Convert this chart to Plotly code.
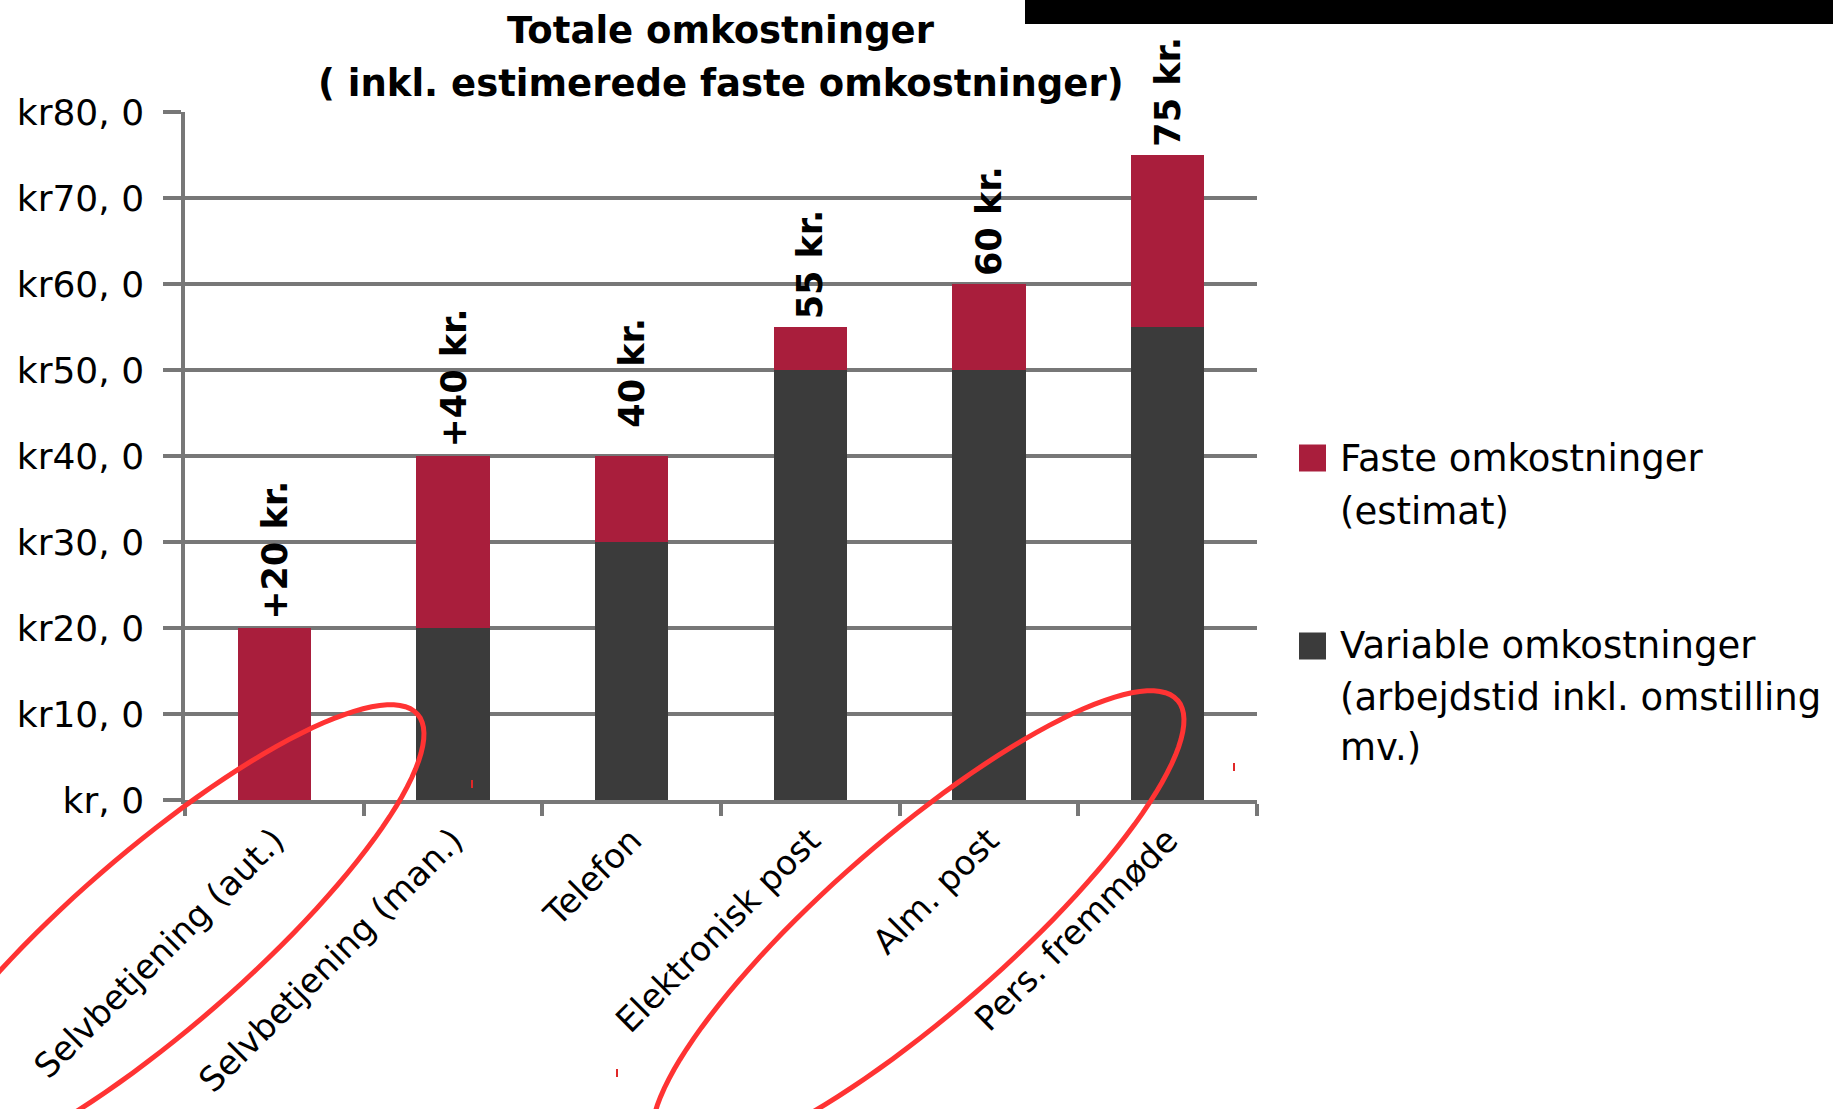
import math
import plotly.graph_objects as go

# ---------------- data ----------------
categories = ["Selvbetjening (aut.)", "Selvbetjening (man.)", "Telefon",
              "Elektronisk post", "Alm. post", "Pers. fremmøde"]
variable_values = [0, 20, 30, 50, 50, 55]
faste_values = [20, 20, 10, 5, 10, 20]
bar_labels = ["+20 kr.", "+40 kr.", "40 kr.", "55 kr.", "60 kr.", "75 kr."]
y_tickvals = [0, 10, 20, 30, 40, 50, 60, 70, 80]
y_ticktext = ["kr, 0", "kr10, 0", "kr20, 0", "kr30, 0", "kr40, 0",
              "kr50, 0", "kr60, 0", "kr70, 0", "kr80, 0"]
faste_name = ["Faste omkostninger", "(estimat)"]
variable_name = ["Variable omkostninger", "(arbejdstid inkl. omstilling", "mv.)"]
title_lines = ["Totale omkostninger", "( inkl. estimerede faste omkostninger)"]

# ---------------- style ----------------
W, H = 1833, 1109
X0, X1, Y0, Y1 = 185, 1257, 112, 800  # plot area in pixels
FASTE_COLOR = "#A91E3C"
VAR_COLOR = "#3B3B3B"
GRID = "#777777"
FONT = "DejaVu Sans"
label_yshift = [6, 6, 26, 6, 6, 6]  # pixel offsets of the value labels


def px(x):
    return (x - X0) / (X1 - X0)


def py(y):
    return (Y1 - y) / (Y1 - Y0)


fig = go.Figure()
fig.add_trace(go.Bar(x=categories, y=variable_values, name=" ".join(variable_name),
                     marker=dict(color=VAR_COLOR, line=dict(width=0)), showlegend=False))
fig.add_trace(go.Bar(x=categories, y=faste_values, name=" ".join(faste_name),
                     marker=dict(color=FASTE_COLOR, line=dict(width=0)), showlegend=False))

annotations = []
# bar total labels
for cat, v, f, lab, ys in zip(categories, variable_values, faste_values, bar_labels, label_yshift):
    annotations.append(dict(x=cat, y=v + f, xref="x", yref="y", text="<b>" + lab + "</b>",
                            textangle=-90, showarrow=False, yanchor="bottom", xanchor="center",
                            yshift=ys, font=dict(family=FONT, size=35, color="black")))

# title
for line, ycen in zip(title_lines, [30, 84]):
    annotations.append(dict(x=0.5, y=py(ycen), xref="paper", yref="paper",
                            text="<b>" + line + "</b>", showarrow=False,
                            xanchor="center", yanchor="middle",
                            font=dict(family=FONT, size=37, color="black")))

shapes = []
# manual legend
legend_items = [(faste_name, FASTE_COLOR, 458, [458, 511]),
                (variable_name, VAR_COLOR, 646, [645, 697, 747])]
for lines, col, sq_y, ys in legend_items:
    shapes.append(dict(type="rect", xref="paper", yref="paper",
                       x0=px(1299), x1=px(1326), y0=py(sq_y - 13.5), y1=py(sq_y + 13.5),
                       fillcolor=col, line=dict(width=0)))
    for line, yl in zip(lines, ys):
        annotations.append(dict(x=px(1338), y=py(yl), xref="paper", yref="paper",
                                text=line, showarrow=False, xanchor="left", yanchor="middle",
                                font=dict(family=FONT, size=37, color="black")))

# black bar at top right
shapes.append(dict(type="rect", xref="paper", yref="paper",
                   x0=px(1025), x1=px(1840), y0=py(-10), y1=py(24),
                   fillcolor="black", line=dict(width=0), layer="above"))


# red hand-drawn ellipses
def ellipse_path(cx, cy, a, b, ang_deg, n=120):
    ang = math.radians(ang_deg)
    ux, uy = math.cos(ang), -math.sin(ang)
    vx, vy = math.sin(ang), math.cos(ang)
    pts = []
    for i in range(n + 1):
        t = 2 * math.pi * i / n
        x = cx + a * math.cos(t) * ux + b * math.sin(t) * vx
        y = cy + a * math.cos(t) * uy + b * math.sin(t) * vy
        pts.append("%.5f,%.5f" % (px(x), py(y)))
    return "M" + " L".join(pts) + " Z"


for cx, cy in [(158, 940), (918, 926)]:
    shapes.append(dict(type="path", xref="paper", yref="paper",
                       path=ellipse_path(cx, cy, 344, 88, 41),
                       line=dict(color="#FF3333", width=5), layer="above"))

# tiny red marks
for mx, my in [(472, 784), (1234, 767), (617, 1073)]:
    shapes.append(dict(type="line", xref="paper", yref="paper",
                       x0=px(mx), x1=px(mx), y0=py(my - 4), y1=py(my + 4),
                       line=dict(color="#E02828", width=2), layer="above"))

fig.update_layout(
    width=W, height=H,
    margin=dict(l=X0, r=W - X1, t=Y0, b=H - Y1, pad=0),
    barmode="stack", bargap=0.59,
    plot_bgcolor="white", paper_bgcolor="white",
    showlegend=False,
    annotations=annotations, shapes=shapes,
    font=dict(family=FONT, color="black"),
)
fig.update_yaxes(range=[0, 80], tickvals=y_tickvals, ticktext=y_ticktext,
                 showgrid=True, gridcolor=GRID, gridwidth=3.5,
                 showline=True, linecolor=GRID, linewidth=3.5,
                 ticks="outside", ticklen=18, tickwidth=3.5, tickcolor=GRID,
                 zeroline=False, ticklabelstandoff=12, automargin=False,
                 tickfont=dict(family=FONT, size=36, color="black"))
fig.update_xaxes(type="category", showgrid=False, showline=True, linecolor=GRID,
                 linewidth=3.5, ticks="outside", tickson="boundaries", ticklen=12,
                 tickwidth=3.5, tickcolor=GRID, tickangle=-45, ticklabelstandoff=3,
                 automargin=False,
                 tickfont=dict(family=FONT, size=34, color="black"))

fig.write_html("out.html", config={"displayModeBar": False},
               post_script="document.body.style.margin='0';document.body.style.overflow='hidden';")
